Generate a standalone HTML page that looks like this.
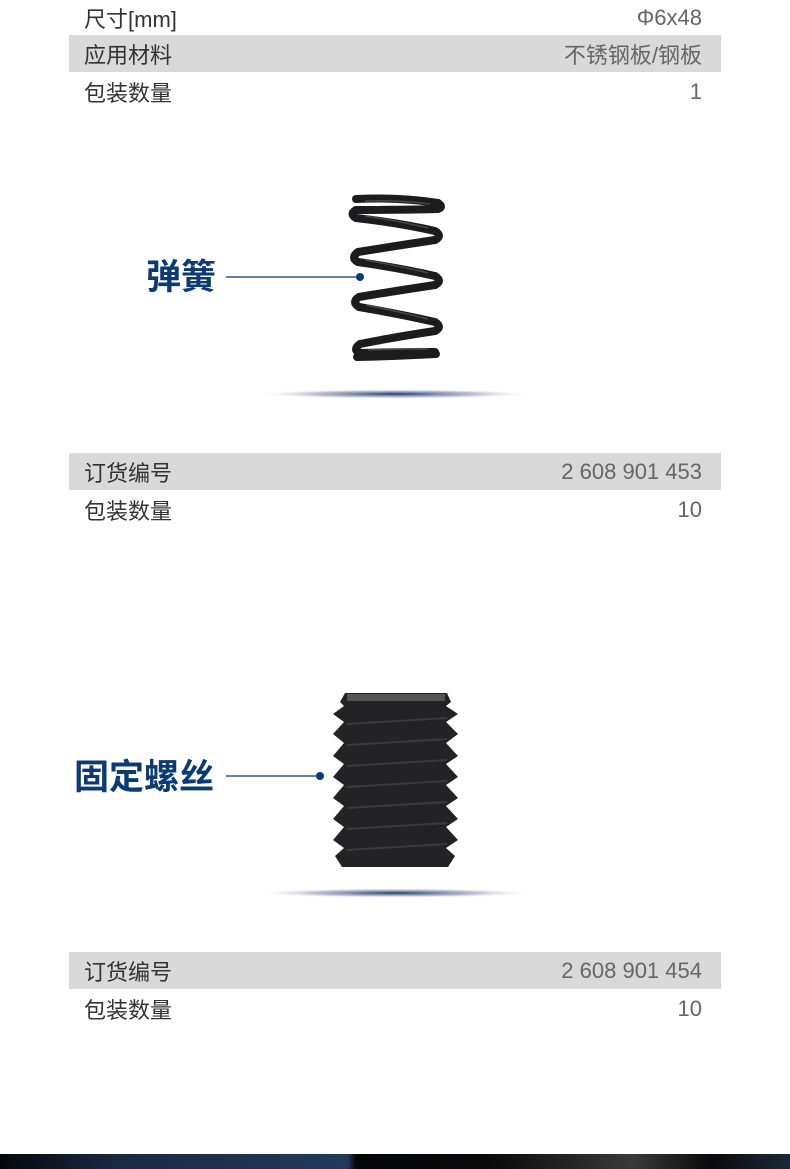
<!DOCTYPE html>
<html><head><meta charset="utf-8"><style>
body{margin:0;width:790px;height:1169px;position:relative;background:#fff;overflow:hidden;font-family:"Liberation Sans","Noto Sans CJK SC",sans-serif;}
.row{position:absolute;left:69px;width:652px;height:37px;font-size:22px;color:#333;}
.row.g{background:#d9d9d9;}
.row span{position:absolute;top:50%;transform:translateY(-50%);}
.row .l{left:15px}.row .r{right:19px;color:#666}
.lab{position:absolute;font-size:35px;font-weight:bold;color:#0b3a75;font-family:"Noto Sans CJK SC",sans-serif;line-height:1;}
</style></head><body>
<div class="row" style="top:-1px"><span class="l">尺寸[mm]</span><span class="r">Φ6x48</span></div>
<div class="row g" style="top:35px"><span class="l">应用材料</span><span class="r">不锈钢板/钢板</span></div>
<div class="row" style="top:73px"><span class="l">包装数量</span><span class="r">1</span></div>
<div class="row g" style="top:453px"><span class="l">订货编号</span><span class="r">2 608 901 453</span></div>
<div class="row" style="top:491px"><span class="l">包装数量</span><span class="r">10</span></div>
<div class="row g" style="top:952px"><span class="l">订货编号</span><span class="r">2 608 901 454</span></div>
<div class="row" style="top:990px"><span class="l">包装数量</span><span class="r">10</span></div>
<div class="lab" style="left:146px;top:257px">弹簧</div>
<div class="lab" style="left:74px;top:757px">固定螺丝</div>
<svg width="790" height="1169" style="position:absolute;left:0;top:0">
<defs><radialGradient id="sh" cx="50%" cy="50%" r="50%"><stop offset="0" stop-color="#1e3a6e"/><stop offset="0.6" stop-color="#8088a8" stop-opacity="0.5"/><stop offset="1" stop-color="#fff" stop-opacity="0"/></radialGradient>
<linearGradient id="bt" x1="0" x2="1"><stop offset="0" stop-color="#05070c"/><stop offset="0.15" stop-color="#1a2a44"/><stop offset="0.44" stop-color="#213a5c"/><stop offset="0.45" stop-color="#050608"/><stop offset="0.62" stop-color="#0a0a0c"/><stop offset="0.8" stop-color="#3a3a3a"/><stop offset="0.9" stop-color="#0a0a0c"/><stop offset="1" stop-color="#1a2a3a"/></linearGradient></defs>
<ellipse cx="395" cy="394" rx="140" ry="5" fill="url(#sh)"/>
<ellipse cx="395" cy="893" rx="140" ry="5" fill="url(#sh)"/>
<line x1="226" y1="277" x2="360" y2="277" stroke="#2e5a8c" stroke-width="1.5"/>
<circle cx="360" cy="277" r="4" fill="#0b3a75"/>
<g fill="none" stroke="#1c1c1e" stroke-width="8" stroke-linecap="round">
<path d="M356,199 Q400,197 438,203 Q444,207 438,209 Q395,210 356,210"/>
<path d="M356,210 Q349,214 356,218 Q400,223 435,231 Q443,236 435,240"/>
<path d="M435,240 Q395,246 358,252 Q350,258 358,262"/>
<path d="M358,262 Q400,268 435,276 Q443,281 435,285"/>
<path d="M435,285 Q395,291 359,297 Q351,302 359,307"/>
<path d="M359,307 Q400,314 435,322 Q443,327 435,331"/>
<path d="M435,331 Q395,337 360,344 Q352,350 360,353 Q400,352 435,352"/>
<path d="M357,357 Q400,356 436,354"/>
</g>
<g fill="none" stroke="#5a5a5e" stroke-width="1.5" opacity="0.7">
<path d="M365,201 Q400,200 430,204"/><path d="M365,216 Q400,221 428,228"/><path d="M365,260 Q400,266 428,273"/><path d="M366,305 Q400,312 428,319"/><path d="M368,350 Q400,349 428,349"/>
</g>
<line x1="226" y1="776" x2="320" y2="776" stroke="#2e5a8c" stroke-width="1.5"/>
<circle cx="320" cy="776" r="4" fill="#0b3a75"/>
<path d="M345,693 L447,693 L451,702 L446,706 L458,714 L446,722 L458,734 L446,743 L458,756 L446,764 L458,777 L446,785 L458,798 L446,806 L458,819 L446,827 L458,840 L446,848 L455,856 L448,867 L342,867 L335,856 L344,848 L333,840 L344,827 L333,819 L344,806 L333,798 L344,785 L333,777 L344,764 L333,756 L344,743 L333,734 L344,722 L333,714 L344,706 L340,702 Z" fill="#232325"/>
<rect x="347" y="694" width="98" height="7" fill="#6a6a6a" opacity="0.7"/>
<g stroke="#3a3a3c" stroke-width="2">
<line x1="347" y1="724" x2="447" y2="718"/><line x1="347" y1="745" x2="447" y2="739"/><line x1="347" y1="766" x2="447" y2="760"/><line x1="347" y1="787" x2="447" y2="781"/><line x1="347" y1="808" x2="447" y2="802"/><line x1="347" y1="829" x2="447" y2="823"/><line x1="347" y1="850" x2="447" y2="844"/></g>
<rect x="0" y="1154" width="790" height="15" fill="url(#bt)"/>
</svg>
</body></html>
